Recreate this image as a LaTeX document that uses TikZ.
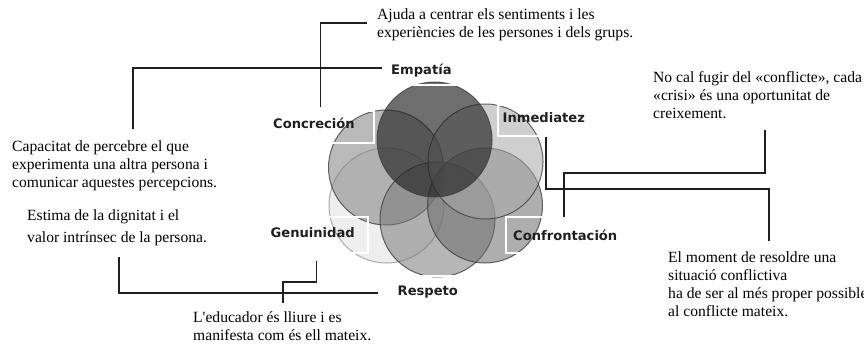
\documentclass[tikz,border=0pt]{standalone}
\usepackage{fontspec}
\setmainfont{Liberation Serif}
\newfontfamily\labfont{DejaVu Sans}
\begin{document}
\begin{tikzpicture}[x=1pt,y=-1pt,
  ring/.style={circle, inner sep=0pt, minimum size=115pt, line width=1pt, draw=black!75, draw opacity=0.8, fill opacity=0.55},
  wbox/.style={draw=white, line width=1.4pt},
  lbl/.style={font=\labfont\bfseries\fontsize{13.1}{14}\selectfont, text=black!88, inner sep=0pt, text height=9.5pt, text depth=2.5pt},
  desc/.style={font=\fontsize{15.6}{17.8}\selectfont, align=left, inner sep=0pt, anchor=north west},
  conn/.style={draw=black!88, line width=1.2pt}]
\useasboundingbox (0,0) rectangle (864,347);
% circles
\node[ring, fill=black!12, draw=black!40] (cGen) at (386.5,205.5) {};
\node[ring, fill=black!50] (cCon) at (386,167.5) {};
\node[ring, fill=black!52] (cRes) at (437.5,219.5) {};
\node[ring, fill=black!58] (cCnf) at (485,205.5) {};
\node[ring, fill=black!34] (cInm) at (485.5,161.5) {};
\node[ring, fill=black!87, fill opacity=0.65] (cEmp) at (434.5,139.5) {};
% white label frames
\draw[wbox] (260,111) rectangle (374,143);
\draw[wbox] (498,105) rectangle (610,136);
\draw[wbox] (260,217) rectangle (368,253);
\draw[wbox] (506,217) rectangle (640,253);
\draw[wbox] (386,52) rectangle (460,85);
\draw[wbox] (386,276) rectangle (470,310);
% labels
\node[lbl, anchor=west] (lEmp) at (391,71) {Empatía};
\node[lbl, anchor=east] (lCon) at (355,125) {Concreción};
\node[lbl, anchor=west] (lInm) at (502.5,119.5) {Inmediatez};
\node[lbl, anchor=east] (lGen) at (355,233.5) {Genuinidad};
\node[lbl, anchor=west] (lCnf) at (513,237.5) {Confrontación};
\node[lbl, anchor=west] (lRes) at (397.5,292) {Respeto};
% descriptions
\node[desc] (tAju) at (377,7.2) {\strut Ajuda a centrar els sentiments i les\\experiències de les persones i dels grups.};
\node[desc] (tCap) at (12,139.2) {\strut Capacitat de percebre el que\\experimenta una altra persona i\\comunicar aquestes percepcions.};
\node[desc, font=\fontsize{15.6}{22}\selectfont] (tEst) at (27,204.5) {\strut Estima de la dignitat i el\\valor intrínsec de la persona.};
\node[desc] (tNoc) at (653,70.2) {\strut No cal fugir del «conflicte», cada\\«crisi» és una oportunitat de\\creixement.};
\node[desc] (tMom) at (668,250.2) {\strut El moment de resoldre una\\situació conflictiva\\ha de ser al més proper possible\\al conflicte mateix.};
\node[desc] (tEdu) at (193,310.2) {\strut L\textquotesingle educador és lliure i es\\manifesta com és ell mateix.};
% connector ends
\coordinate (aCon) at (320.5,107);
\coordinate (aAju) at (367,23);
\coordinate (aEmp) at (382,68);
\coordinate (aCap) at (133,129);
\coordinate (aRes) at (378,293);
\coordinate (aEst) at (119,257);
\coordinate (aGen) at (316.5,261);
\coordinate (aGen2) at (283,282);
\coordinate (aEdu) at (283,303);
\coordinate (aInm) at (546,137);
\coordinate (aInm2) at (769,189);
\coordinate (aMom) at (769,241);
\coordinate (aCnf) at (564,217);
\coordinate (aCnf2) at (765,173);
\coordinate (aNoc) at (765,130);
% connectors
\draw[conn] (aCon) |- (aAju);
\draw[conn] (aEmp) -| (aCap);
\draw[conn] (aRes) -| (aEst);
\draw[conn] (aGen) |- (aGen2) -- (aEdu);
\draw[conn] (aInm) |- (aInm2) -- (aMom);
\draw[conn] (aCnf) |- (aCnf2) -- (aNoc);
\end{tikzpicture}
\end{document}
